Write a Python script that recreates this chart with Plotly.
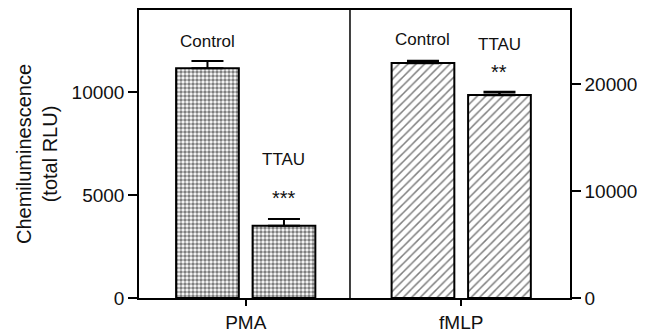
import plotly.graph_objects as go

# ---- data ----
stimuli = ["PMA", "fMLP"]
treatments = ["Control", "TTAU"]
pma_values = [11150, 3510]
pma_errors = [350, 330]
fmlp_values = [21950, 18970]
fmlp_errors = [180, 260]
pma_marks = ["", "***"]
fmlp_marks = ["", "**"]
left_ticks = [0, 5000, 10000]
right_ticks = [0, 10000, 20000]

# ---- layout helpers (positions computed, not data) ----
group_gap = 2.817
bar_w = 0.82
pma_x = [0, 1]
fmlp_x = [group_gap + i for i in range(2)]
tick_x = [sum(pma_x) / 2, sum(fmlp_x) / 2]
divider_x = 1.863

FONT = "Liberation Sans, Arial, sans-serif"
fig = go.Figure()

fig.add_trace(go.Bar(
    x=pma_x, y=pma_values, width=bar_w, yaxis="y",
    marker=dict(color="white", line=dict(color="black", width=2),
                pattern=dict(shape=".", size=4, solidity=0.6, fgcolor="black", bgcolor="white")),
    error_y=dict(type="data", symmetric=False, array=pma_errors, arrayminus=[0, 0],
                 color="black", thickness=2, width=16),
    showlegend=False,
))
fig.add_trace(go.Bar(
    x=fmlp_x, y=fmlp_values, width=bar_w, yaxis="y2",
    marker=dict(color="white", line=dict(color="black", width=2),
                pattern=dict(shape="/", size=6, solidity=0.25, fgcolor="black", bgcolor="white")),
    error_y=dict(type="data", symmetric=False, array=fmlp_errors, arrayminus=[0, 0],
                 color="black", thickness=2.5, width=16),
    showlegend=False,
))

ann = []
lab_font = dict(family=FONT, size=17, color="#111")
# PMA labels
ann.append(dict(x=pma_x[0], y=12430, xref="x", yref="y", text=treatments[0], showarrow=False, font=lab_font))
ann.append(dict(x=pma_x[1], y=6700, xref="x", yref="y", text=treatments[1], showarrow=False, font=lab_font))
ann.append(dict(x=pma_x[1], y=4850, xref="x", yref="y", text=pma_marks[1], showarrow=False, font=dict(family=FONT, size=20, color="#111")))
# fMLP labels
ann.append(dict(x=fmlp_x[0], y=24150, xref="x", yref="y2", text=treatments[0], showarrow=False, font=lab_font))
ann.append(dict(x=fmlp_x[1], y=23650, xref="x", yref="y2", text=treatments[1], showarrow=False, font=lab_font))
ann.append(dict(x=fmlp_x[1], y=21100, xref="x", yref="y2", text=fmlp_marks[1], showarrow=False, font=dict(family=FONT, size=20, color="#111")))

fig.update_layout(
    width=645, height=333,
    margin=dict(l=131, r=83, t=2, b=43),
    paper_bgcolor="white", plot_bgcolor="white",
    font=dict(family=FONT, size=18, color="#111"),
    annotations=ann,
    xaxis=dict(range=[-0.895, 4.739], tickvals=tick_x, ticktext=stimuli, automargin=False,
               showline=True, linecolor="black", linewidth=1.5, mirror=True,
               ticks="outside", ticklen=6, tickcolor="black", tickwidth=1.5,
               showgrid=False, zeroline=False, tickfont=dict(size=19)),
    yaxis=dict(range=[0, 13980], tickvals=left_ticks, ticktext=[str(v) for v in left_ticks],
               automargin=False, showline=True, linecolor="black", linewidth=1.5,
               ticks="outside", ticklen=9, tickcolor="black", tickwidth=1.5,
               showgrid=False, zeroline=False, tickfont=dict(size=19),
               title=dict(text="Chemiluminescence<br>(total RLU)", font=dict(size=20), standoff=9)),
    yaxis2=dict(range=[0, 26900], tickvals=right_ticks, ticktext=[str(v) for v in right_ticks],
                overlaying="y", side="right", automargin=False,
                showline=True, linecolor="black", linewidth=1.5,
                ticks="outside", ticklen=9, tickcolor="black", tickwidth=1.5,
                showgrid=False, zeroline=False, tickfont=dict(size=19)),
    shapes=[dict(type="line", xref="x", yref="paper", x0=divider_x, x1=divider_x, y0=0, y1=1,
                 line=dict(color="black", width=1.5))],
)

fig.write_html("out.html")
